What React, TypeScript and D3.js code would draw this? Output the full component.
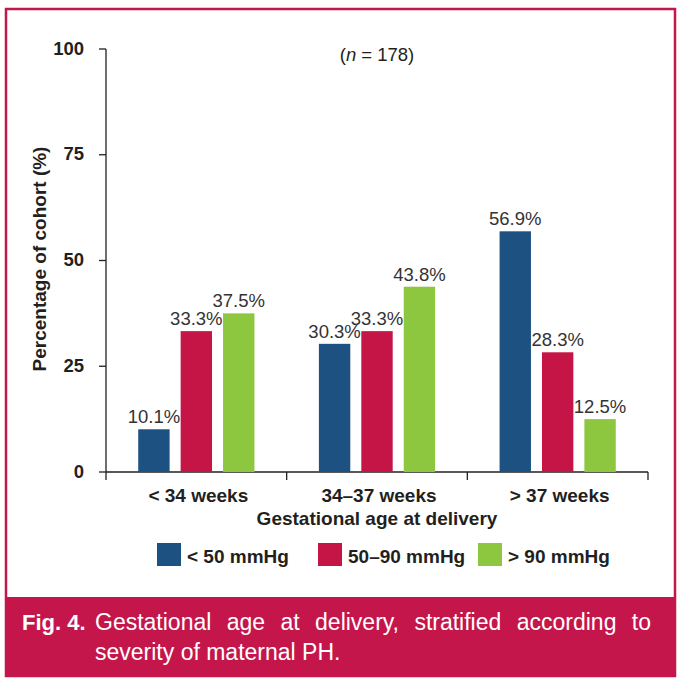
import React from "react";
import * as d3 from "d3";

const categories = ["< 34 weeks", "34–37 weeks", "> 37 weeks"];
const seriesNames = ["< 50 mmHg", "50–90 mmHg", "> 90 mmHg"];
const lowValues = [10.1, 30.3, 56.9];
const midValues = [33.3, 33.3, 28.3];
const highValues = [37.5, 43.8, 12.5];
const yTicks = [0, 25, 50, 75, 100];
const colors = ["#1c5182", "#c51547", "#8dc63f"];
const captionBold = "Fig. 4.";
const captionLine1 = "Gestational age at delivery, stratified according to";
const captionLine2 = "severity of maternal PH.";

const FONT = "'Liberation Sans', Arial, sans-serif";
const CRIMSON = "#c5164b";
const TEXT = "#231f20";

function measure(text: string, font: string): number {
  const c = document.createElement("canvas");
  const ctx = c.getContext("2d");
  if (!ctx) return text.length * 10;
  ctx.font = font;
  return ctx.measureText(text).width;
}

export default function App() {
  const W = 680, H = 680;
  const left = 106, right = 648, top = 49, bottom = 472;
  const series = [lowValues, midValues, highValues];

  const x0 = d3.scaleBand<string>().domain(categories).range([left, right]).paddingInner(0).paddingOuter(0);
  const x1 = d3.scaleBand<string>().domain(seriesNames).range([0, x0.bandwidth()]).paddingInner(0.26).paddingOuter(0.76);
  const y = d3.scaleLinear().domain([0, 100]).range([bottom, top]);

  // justified caption line
  const capFontSize = 23;
  const capFont = `${capFontSize}px 'Liberation Sans', Arial, sans-serif`;
  const words = captionLine1.split(" ");
  const capStart = 95, capEnd = 651;
  const wordWidths = words.map((w) => measure(w, capFont));
  const totalW = d3.sum(wordWidths);
  const gap = (capEnd - capStart - totalW) / (words.length - 1);
  const wordX: number[] = [];
  let cx = capStart;
  words.forEach((w, i) => {
    wordX.push(cx);
    cx += wordWidths[i] + gap;
  });

  const legendX = [157, 318, 478];

  return (
    <svg width={W} height={H} style={{ position: "absolute", left: 0, top: 0, background: "#fff" }} fontFamily={FONT}>
      <rect x={0} y={0} width={W} height={H} fill="#fff" />
      {/* frame */}
      <rect x={6} y={9} width={669} height={667} fill="none" stroke={CRIMSON} strokeWidth={2.5} />
      <rect x={5} y={597} width={671} height={80} fill={CRIMSON} />

      {/* y axis */}
      <line x1={left} x2={left} y1={y(100)} y2={bottom} stroke={TEXT} strokeWidth={1.3} />
      {yTicks.map((t) => (
        <g key={t}>
          <line x1={left - 7} x2={left} y1={y(t)} y2={y(t)} stroke={TEXT} strokeWidth={1.3} />
          <text x={84} y={y(t)} dy="0.3em" textAnchor="end" fontSize={18.5} fontWeight="bold" fill={TEXT}>
            {t}
          </text>
        </g>
      ))}
      <text
        transform={`translate(46,${259}) rotate(-90)`}
        textAnchor="middle"
        fontSize={19}
        fontWeight="bold"
        fill={TEXT}
      >
        Percentage of cohort (%)
      </text>

      {/* x axis */}
      <line x1={left} x2={right} y1={bottom} y2={bottom} stroke={TEXT} strokeWidth={1.3} />
      {[...categories.map((c) => x0(c) as number), right].map((tx, i) => (
        <line key={i} x1={tx} x2={tx} y1={bottom} y2={bottom + 8} stroke={TEXT} strokeWidth={1.3} />
      ))}
      {categories.map((c) => (
        <text key={c} x={(x0(c) as number) + x0.bandwidth() / 2 + 2} y={502} textAnchor="middle" fontSize={19} fontWeight="bold" fill={TEXT}>
          {c}
        </text>
      ))}
      <text x={(left + right) / 2} y={525} textAnchor="middle" fontSize={19} fontWeight="bold" fill={TEXT}>
        Gestational age at delivery
      </text>

      {/* n label */}
      <text x={377} y={61} textAnchor="middle" fontSize={18.5} fill={TEXT}>
        (<tspan fontStyle="italic">n</tspan> = 178)
      </text>

      {/* bars */}
      {categories.map((c, ci) => (
        <g key={c} transform={`translate(${x0(c)},0)`}>
          {seriesNames.map((s, si) => {
            const v = series[si][ci];
            const bx = x1(s) as number;
            return (
              <g key={s}>
                <rect x={bx} y={y(v)} width={x1.bandwidth()} height={bottom - y(v)} fill={colors[si]} />
                <text x={bx + x1.bandwidth() / 2} y={y(v) - 6} textAnchor="middle" fontSize={18.5} fill="#333">
                  {v.toFixed(1)}%
                </text>
              </g>
            );
          })}
        </g>
      ))}

      {/* legend */}
      {seriesNames.map((s, i) => (
        <g key={s}>
          <rect x={legendX[i]} y={543} width={24} height={23} fill={colors[i]} />
          <text x={legendX[i] + 30} y={563} fontSize={19} fontWeight="bold" fill={TEXT}>
            {s}
          </text>
        </g>
      ))}

      {/* caption */}
      <text x={22} y={630} fontSize={22} fontWeight="bold" fill="#fff">
        {captionBold}
      </text>
      {words.map((w, i) => (
        <text key={i} x={wordX[i]} y={630} fontSize={capFontSize} fill="#fff">
          {w}
        </text>
      ))}
      <text x={95} y={660} fontSize={capFontSize} fill="#fff">
        {captionLine2}
      </text>
    </svg>
  );
}
